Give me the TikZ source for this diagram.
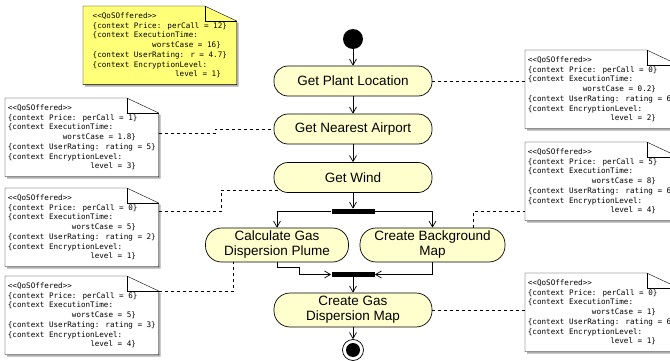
\documentclass[tikz,border=0pt]{standalone}
\usepackage{fontspec}
\setmainfont{Liberation Sans}
\newfontfamily\qosfont{DejaVu Sans Mono}
\usetikzlibrary{arrows.meta,positioning,shadows,backgrounds}

\definecolor{actfill}{RGB}{255,255,206}
\definecolor{reqfill}{RGB}{255,255,120}

% right flushed line inside a QoS note
\newcommand\qright[1]{\makebox[16.86em][r]{#1}}
\newcommand\qostext[4]{\textless\textless QoSOffered\textgreater\textgreater\\
  \{context Price: perCall = #1\}\\
  \{context ExecutionTime:\\
  \qright{worstCase = #2\}}\\
  \{context UserRating: #3\}\\
  \{context EncryptionLevel:\\
  \qright{level = #4\}}}
% note outline with folded corner, drawn behind a named node
\newcommand\notebg[2]{%
  \begin{scope}[on background layer]
    \filldraw[fill=#2, drop shadow={shadow xshift=2pt, shadow yshift=-2pt, fill=black!40, opacity=.8}]
      (#1.north west) -- ([xshift=-32pt]#1.north east) -- ([yshift=-15pt]#1.north east)
      -- (#1.south east) -- (#1.south west) -- cycle;
    \draw ([xshift=-32pt]#1.north east) |- ([yshift=-15pt]#1.north east);
  \end{scope}}

\begin{document}
\begin{tikzpicture}[
            x = 1pt, y = -1pt, % pixel grid, y downwards
            > = {Straight Barb[length=6pt,width=7pt]}, % open arrow heads
            line width = 0.7pt,
            on grid,
            act/.style = {draw, fill=actfill, rounded corners=14pt, minimum width=158pt,
                minimum height=30pt, inner sep=1pt, align=center,
                font=\fontsize{13.5}{15}\selectfont},
            act2/.style = {act, rounded corners=16pt, minimum height=34pt},
            qos/.style = {anchor=north west, minimum width=153pt, minimum height=78pt,
                inner sep=0pt, align=left, font=\qosfont\fontsize{7.6}{9.7}\selectfont},
            startdot/.style = {circle, fill, minimum size=20pt, inner sep=0pt},
            enddot/.style = {circle, draw, fill=white, minimum size=21pt, inner sep=0pt,
                path picture={\fill[black] (path picture bounding box.center) circle (7pt);}},
            bar/.style = {fill, minimum width=43pt, minimum height=5pt, inner sep=0pt},
            qlink/.style = {dash pattern=on 3pt off 3pt, line width=0.6pt}
        ]
	\useasboundingbox (0,0) rectangle (670,361);

	% activity flow
	\node[startdot] (start) at (353,39) {};
	\node[act] (gpl) [below=42pt of start] {Get Plant Location};
	\node[act] (gna) [below=48pt of gpl] {Get Nearest Airport};
	\node[act] (gw) [below=48.5pt of gna] {Get Wind};
	\node[bar] (fork) [below=34pt of gw] {};
	\node[act2, minimum width=143pt] (calc) at (277,245) {Calculate Gas\\Dispersion Plume};
	\node[act2, minimum width=145pt] (cbg) at (432.5,245) {Create Background\\Map};
	\node[bar] (join) at (353,274.5) {};
	\node[act2] (cgdm) at (353,310) {Create Gas\\Dispersion Map};
	\node[enddot] (end) at (353,350) {};

	% QoS notes
	\node[qos] (req) at (83,6) {\qostext{12}{16}{r = 4.7}{1}};
	\node[qos] (ln1) at (5,98) {\qostext{1}{1.8}{rating = 5}{3}};
	\node[qos] (ln2) at (5,188) {\qostext{0}{5}{rating = 2}{1}};
	\node[qos] (ln3) at (5,276) {\qostext{6}{5}{rating = 3}{4}};
	\node[qos] (rn1) at (525,50) {\qostext{0}{0.2}{rating = 6}{2}};
	\node[qos] (rn2) at (525,142) {\qostext{5}{8}{rating = 6}{4}};
	\node[qos] (rn3) at (525,273) {\qostext{0}{1}{rating = 6}{1}};
	\notebg{req}{reqfill}
	\notebg{ln1}{white}
	\notebg{ln2}{white}
	\notebg{ln3}{white}
	\notebg{rn1}{white}
	\notebg{rn2}{white}
	\notebg{rn3}{white}

	\draw[->] (start) -- (gpl);
	\draw[->] (gpl) -- (gna);
	\draw[->] (gna) -- (gw);
	\draw[->] (gw) -- (fork);
	\draw[->] (fork.west) -| (calc.north);
	\draw[->] (fork.east) -| (cbg.north);
	\draw[->] (calc.south) -- ++(0,5) -| ([xshift=-32pt]join.west) -- (join.west);
	\draw[->] (cbg.south) |- (join.east);
	\draw[->] (join) -- (cgdm);
	\draw[->] (cgdm) -- (end);

	\draw[qlink] (gpl.east) -- (gpl.east -| rn1.west);
	\draw[qlink] ([yshift=4pt]ln1.east) -- ++(57,0) |- (gna.west);
	\draw[qlink] ([yshift=16pt]ln2.east) -- ++(63,0) |- ([xshift=7pt,yshift=3pt]gw.south west);
	\draw[qlink] ([yshift=24pt]ln3.east) -| ([xshift=28pt]calc.south west);
	\draw[qlink] ([xshift=40.5pt]cbg.north) |- ([yshift=-30pt]rn2.west);
	\draw[qlink] (cgdm.east) -- (cgdm.east -| rn3.west);
\end{tikzpicture}
\end{document}
